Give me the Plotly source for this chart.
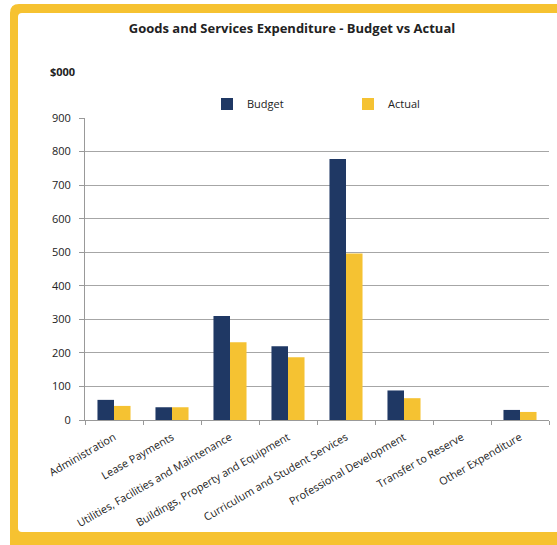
import plotly.graph_objects as go

categories = ["Administration", "Lease Payments", "Utilities, Facilities and Maintenance",
              "Buildings, Property and Equipment", "Curriculum and Student Services",
              "Professional Development", "Transfer to Reserve", "Other Expenditure"]
budget = [60, 38, 310, 220, 778, 88, 0, 30]
actual = [42, 38, 232, 187, 496, 65, 0, 24]
y_ticks = [0, 100, 200, 300, 400, 500, 600, 700, 800, 900]

NAVY = "#1F3864"
GOLD = "#F5C232"
FRAME = "#F6C231"

W, H = 557, 545
L, R, T, B = 85, 8, 118, 125
pw = W - L - R
ph = H - T - B

def px(x):
    return (x - L) / pw

def py(y):
    return (H - B - y) / ph

fig = go.Figure()
fig.add_trace(go.Bar(x=categories, y=budget, name="Budget", marker_color=NAVY,
                     marker_line_width=0))
fig.add_trace(go.Bar(x=categories, y=actual, name="Actual", marker_color=GOLD,
                     marker_line_width=0))

# yellow frame (evenodd path)
r_out, r_in = 9, 4
ox0, oy0, ox1, oy1 = 10, 4, 600, 545
ix0, iy0, ix1, iy1 = 18, 13, 600, 532
def P(x, y):
    return f"{px(x):.5f},{py(y):.5f}"
path = (f"M{P(ox0 + r_out, oy0)} L{P(ox1, oy0)} L{P(ox1, oy1)} L{P(ox0, oy1)} "
        f"L{P(ox0, oy0 + r_out)} Q{P(ox0, oy0)} {P(ox0 + r_out, oy0)} Z "
        f"M{P(ix0 + r_in, iy0)} L{P(ix1, iy0)} L{P(ix1, iy1)} L{P(ix0 + r_in, iy1)} "
        f"Q{P(ix0, iy1)} {P(ix0, iy1 - r_in)} "
        f"L{P(ix0, iy0 + r_in)} Q{P(ix0, iy0)} {P(ix0 + r_in, iy0)} Z")
fig.add_shape(type="path", path=path, xref="paper", yref="paper",
              fillcolor=FRAME, line=dict(width=0), fillrule="evenodd", layer="above")

fig.add_annotation(text="<b>$000</b>", x=px(62), y=py(71), xref="paper", yref="paper",
                   xanchor="center", yanchor="middle",
                   showarrow=False, font=dict(size=11, color="#222222"))

fig.update_layout(
    width=W, height=H,
    margin=dict(l=L, r=R, t=T, b=B, autoexpand=False),
    paper_bgcolor="white", plot_bgcolor="rgba(0,0,0,0)",
    font=dict(family="Open Sans", size=11, color="#222222"),
    title=dict(text="<b>Goods and Services Expenditure - Budget vs Actual</b>",
               x=292 / W, xanchor="center", y=1 - 28 / H, yanchor="middle",
               font=dict(size=13, color="#222222")),
    barmode="group", bargap=0.43, bargroupgap=0,
    legend=dict(orientation="h", x=px(207), xanchor="left", y=py(104), yanchor="middle",
                entrywidth=96, font=dict(size=11),
                bgcolor="rgba(0,0,0,0)"),
    showlegend=True,
)
fig.update_xaxes(tickangle=-30, tickson="boundaries", ticks="outside", ticklen=4,
                 tickcolor="#999999", showline=True, linecolor="#999999", linewidth=1,
                 showgrid=False, ticklabelstandoff=6,
                 tickfont=dict(size=10.8, color="#222222"))
fig.update_yaxes(range=[0, 900], tickvals=y_ticks, ticks="outside", ticklen=5,
                 tickcolor="#999999", showline=True, linecolor="#999999", linewidth=1,
                 showgrid=True, gridcolor="#a6a6a6", gridwidth=1, zeroline=False,
                 ticklabelstandoff=6, tickfont=dict(size=11, color="#222222"))

fig.write_html("out.html")
